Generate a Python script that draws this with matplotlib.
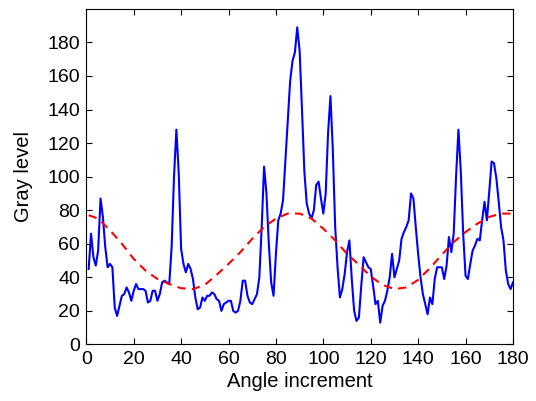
import numpy as np
import matplotlib
matplotlib.use('Agg')
import matplotlib.pyplot as plt

plt.rcParams['font.family'] = ['Liberation Sans', 'DejaVu Sans']

# measured gray level, one sample per degree (1..180)
angle = np.arange(1, 181)
gray = [45, 66, 52, 47, 56, 87, 76, 58, 46, 48,
        46, 22, 17, 23, 29, 30, 34, 31, 26, 32,
        36, 33, 33, 33, 32, 25, 26, 32, 32, 26,
        30, 37, 38, 37, 36, 58, 100, 128, 102, 57,
        48, 43, 48, 45, 39, 28, 21, 22, 28, 26,
        29, 29, 31, 30, 27, 26, 20, 24, 25, 26,
        26, 20, 19, 20, 26, 38, 38, 29, 25, 24,
        27, 30, 40, 70, 106, 90, 60, 37, 29, 54,
        74, 78, 86, 110, 134, 157, 169, 174, 189, 175,
        140, 103, 84, 78, 75, 80, 95, 97, 87, 78,
        90, 126, 148, 116, 70, 46, 28, 33, 42, 55,
        62, 39, 20, 14, 16, 35, 52, 49, 46, 45,
        35, 24, 26, 13, 23, 26, 32, 40, 54, 40,
        45, 50, 63, 67, 70, 74, 90, 87, 70, 54,
        40, 30, 24, 18, 28, 24, 39, 46, 46, 46,
        39, 47, 64, 55, 66, 100, 128, 103, 66, 41,
        39, 48, 56, 59, 63, 62, 74, 85, 74, 91,
        109, 108, 99, 85, 70, 62, 44, 36, 33, 37]

# fitted curve, read every 5 degrees
fit_angle = [1, 5, 10, 15, 20, 25, 30, 35, 40, 45, 50, 55, 60, 65, 70, 75,
             80, 85, 90, 95, 100, 105, 110, 115, 120, 125, 130, 135, 140,
             145, 150, 155, 160, 165, 170, 175, 180]
fit_gray = [77, 75, 68, 60, 51, 44, 39, 36, 33.5, 33, 35.5, 41.5, 48, 55,
            63, 70, 75, 78, 78, 75, 69, 62, 54, 47.5, 40.5, 35.5, 33, 34,
            38.5, 45.5, 53.5, 61, 67, 72, 76, 78, 78]

fig, ax = plt.subplots(figsize=(5.36, 4.01), dpi=100)
fig.subplots_adjust(left=0.161, right=0.957, top=0.978, bottom=0.141)

ax.plot(angle, gray, color='#0000ff', lw=1.5)
ax.plot(fit_angle, fit_gray, color='#ff0000', lw=1.5, ls='--', dashes=(4, 3))

ax.set_xlim(0, 180)
ax.set_ylim(0, 200)
ax.set_xticks(np.arange(0, 181, 20))
ax.set_yticks(np.arange(0, 181, 20))
ax.tick_params(direction='in', top=True, right=True, length=4, labelsize=14,
               pad=4.5)
ax.set_xlabel('Angle increment', fontsize=14.5, labelpad=3)
ax.set_ylabel('Gray level', fontsize=14.5, labelpad=10)

fig.savefig('out.png', dpi=100)
